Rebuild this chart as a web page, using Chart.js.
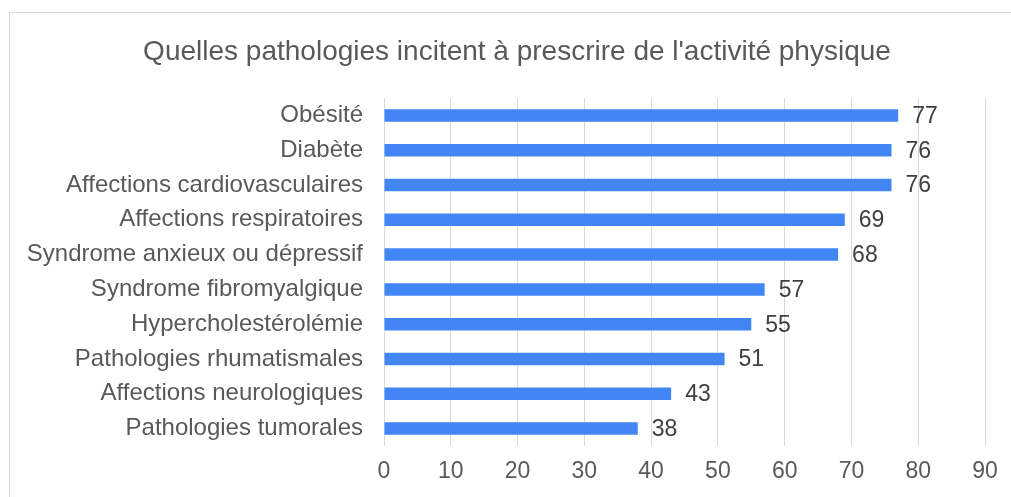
<!DOCTYPE html>
<html>
<head>
<meta charset="utf-8">
<script src="https://cdn.jsdelivr.net/npm/chart.js@4"></script>
<style>
  html, body { margin: 0; padding: 0; background: #fff; }
  #wrap { width: 1011px; height: 497px; }
</style>
</head>
<body>
<div id="wrap"><canvas id="pathoChart" width="1011" height="497"></canvas></div>
<script>
const categories = [
  "Obésité",
  "Diabète",
  "Affections cardiovasculaires",
  "Affections respiratoires",
  "Syndrome anxieux ou dépressif",
  "Syndrome fibromyalgique",
  "Hypercholestérolémie",
  "Pathologies rhumatismales",
  "Affections neurologiques",
  "Pathologies tumorales"
];
const values = [77, 76, 76, 69, 68, 57, 55, 51, 43, 38];
const xTicks = [0, 10, 20, 30, 40, 50, 60, 70, 80, 90];
const chartTitle = "Quelles pathologies incitent à prescrire de l'activité physique";

const FONT = "'Liberation Sans', Arial, sans-serif";

// outer frame + title (the frame is cut off on the right and bottom)
const framePlugin = {
  id: "frame",
  beforeDraw(chart) {
    const ctx = chart.ctx;
    ctx.save();
    ctx.fillStyle = "#fff";
    ctx.fillRect(0, 0, chart.width, chart.height);
    ctx.strokeStyle = "#d9d9d9";
    ctx.lineWidth = 1;
    ctx.strokeRect(9.5, 12.5, 1200, 600);
    ctx.font = "28px " + FONT;
    ctx.fillStyle = "#595959";
    ctx.textAlign = "center";
    ctx.textBaseline = "middle";
    ctx.fillText(chartTitle, 517, 52);
    ctx.restore();
  }
};

// value at the end of each bar
const valueLabels = {
  id: "valueLabels",
  afterDatasetsDraw(chart) {
    const ctx = chart.ctx;
    const meta = chart.getDatasetMeta(0);
    ctx.save();
    ctx.font = "23px " + FONT;
    ctx.fillStyle = "#404040";
    ctx.textAlign = "left";
    ctx.textBaseline = "middle";
    meta.data.forEach((bar, i) => {
      ctx.fillText(values[i], bar.x + 14, bar.y + 1);
    });
    ctx.restore();
  }
};

new Chart(document.getElementById("pathoChart").getContext("2d"), {
  type: "bar",
  data: {
    labels: categories,
    datasets: [
      {
        data: values,
        backgroundColor: "#4285F4",
        borderWidth: 0,
        barPercentage: 0.36,
        categoryPercentage: 1
      }
    ]
  },
  options: {
    indexAxis: "y",
    responsive: false,
    animation: false,
    layout: { padding: { left: 0, right: 26, top: 98, bottom: 0 } },
    plugins: {
      legend: { display: false },
      tooltip: { enabled: false },
      title: { display: false }
    },
    scales: {
      x: {
        min: 0,
        max: 90,
        afterBuildTicks(scale) {
          scale.ticks = xTicks.map(v => ({ value: v }));
        },
        afterFit(scale) { scale.height = 51; },
        grid: { color: "#d9d9d9", lineWidth: 1, drawTicks: false },
        border: { display: false },
        ticks: {
          color: "#595959",
          padding: 12,
          font: { family: FONT, size: 23 }
        }
      },
      y: {
        afterFit(scale) { scale.width = 384; },
        grid: { display: false, drawTicks: false },
        border: { display: false },
        ticks: {
          color: "#595959",
          padding: 21,
          font: { family: FONT, size: 24 }
        }
      }
    }
  },
  plugins: [framePlugin, valueLabels]
});
</script>
</body>
</html>
